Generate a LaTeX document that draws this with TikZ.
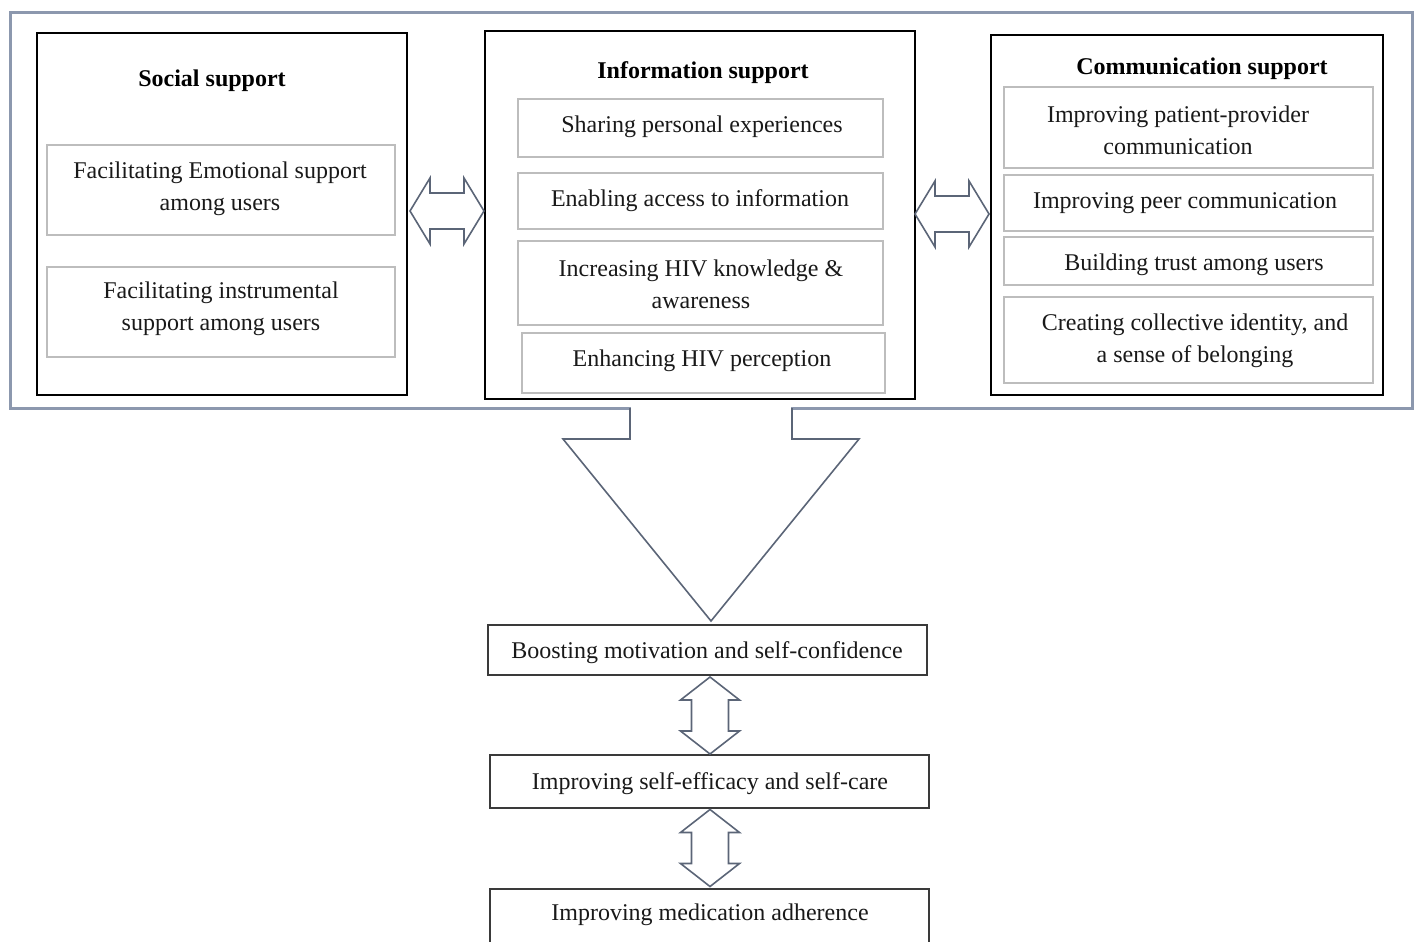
\documentclass[tikz,border=0pt]{standalone}
\usepackage{fontspec}
\setmainfont{Liberation Serif}
\definecolor{framec}{HTML}{8C98AE}
\definecolor{itemc}{HTML}{BDBDBD}
\definecolor{arrowc}{HTML}{5B6577}
\definecolor{botc}{HTML}{3A3A3A}
\begin{document}
\begin{tikzpicture}[x=0.5pt,y=-0.5pt,
  every node/.style={font=\fontsize{12}{16}\selectfont},
  grp/.style={draw=black, line width=1pt, inner sep=0pt, fill=white},
  item/.style={draw=itemc, line width=1pt, inner sep=0pt},
  txt/.style={inner sep=0pt, align=center, text=black!90, yshift=-1.5pt},
  ttl/.style={inner sep=0pt, yshift=-1.5pt, font=\fontsize{12}{16}\selectfont\bfseries},
  barrow/.style={draw=arrowc, line width=0.8pt, fill=white, line join=miter},
  bot/.style={draw=botc, line width=0.9pt, inner sep=0pt}]
\useasboundingbox (0,0) rectangle (1416,941);
\clip (0,0) rectangle (1416,941);
% outer frame
\node[draw=framec, line width=1.5pt, minimum width=701pt, minimum height=197.5pt, inner sep=0pt] (frame) at (711,210.5) {};
% group boxes
\node[grp, minimum width=185pt, minimum height=181pt] (social) at (222,214) {};
\node[grp, minimum width=215pt, minimum height=184pt] (info) at (700,215) {};
\node[grp, minimum width=196pt, minimum height=180pt] (comm) at (1187,215) {};
% titles
\node[ttl] (tsocial) at (212,78) {Social support};
\node[ttl] (tinfo) at (703,70) {Information support};
\node[ttl] (tcomm) at (1202,66) {Communication support};
% social items
\node[item, minimum width=174pt, minimum height=45pt] (s1) at (221,190) {};
\node[item, minimum width=174pt, minimum height=45pt] (s2) at (221,312) {};
\node[txt] (s1t) at (220,186) {Facilitating Emotional support\\among users};
\node[txt] (s2t) at (221,306) {Facilitating instrumental\\support among users};
% info items
\node[item, minimum width=182.5pt, minimum height=29pt] (i1) at (700.5,128) {};
\node[item, minimum width=182.5pt, minimum height=28pt] (i2) at (700.5,201) {};
\node[item, minimum width=182.5pt, minimum height=42pt] (i3) at (700.5,283) {};
\node[item, minimum width=181.5pt, minimum height=30pt] (i4) at (703.5,363) {};
\node[txt] (i1t) at (702,124) {Sharing personal experiences};
\node[txt] (i2t) at (700,198) {Enabling access to information};
\node[txt] (i3t) at (701,281.5) {Increasing HIV knowledge \&\\awareness};
\node[txt] (i4t) at (702,358) {Enhancing HIV perception};
% communication items
\node[item, minimum width=184.5pt, minimum height=40.5pt] (c1) at (1188.5,127.5) {};
\node[item, minimum width=184.5pt, minimum height=28pt] (c2) at (1188.5,203) {};
\node[item, minimum width=184.5pt, minimum height=24pt] (c3) at (1188.5,261) {};
\node[item, minimum width=184.5pt, minimum height=43pt] (c4) at (1188.5,340) {};
\node[txt] (c1t) at (1178,127.5) {Improving patient-provider\\communication};
\node[txt] (c2t) at (1185,200) {Improving peer communication};
\node[txt] (c3t) at (1194,262) {Building trust among users};
\node[txt] (c4t) at (1195,338) {Creating collective identity, and\\a sense of belonging};
% horizontal double block arrows
\coordinate (LA) at (447,211);
\coordinate (RA) at (952,214);
\foreach \c in {LA,RA}{
  \draw[barrow] (\c) ++(-37,0) -- ++(20,-33) -- ++(0,15) -- ++(34,0) -- ++(0,-15)
     -- ++(20,33) -- ++(-20,33) -- ++(0,-15) -- ++(-34,0) -- ++(0,15) -- cycle;
}
% big down arrow
\coordinate (BA) at (711,408);
\fill[white] (BA) ++(-80,-3) rectangle ++(160,6);
\draw[barrow, fill=none] (BA) ++(-81,0) -- ++(0,31) -- ++(-67,0) -- ++(148,182)
   -- ++(148,-182) -- ++(-67,0) -- ++(0,-31);
% bottom boxes
\node[bot, minimum width=219.5pt, minimum height=25pt] (b1) at (707.5,650) {};
\node[bot, minimum width=219.5pt, minimum height=26.5pt] (b2) at (709.5,781.5) {};
\node[bot, minimum width=219.5pt, minimum height=36pt] (b3) at (709.5,925) {};
\node[txt] (b1t) at (707,650) {Boosting motivation and self-confidence};
\node[txt] (b2t) at (710,781) {Improving self-efficacy and self-care};
\node[txt] (b3t) at (710,912) {Improving medication adherence};
% vertical double block arrows
\coordinate (VA) at (710,715.5);
\coordinate (VB) at (710,848);
\foreach \c in {VA,VB}{
  \draw[barrow] (\c) ++(0,-38.5) -- ++(29.5,23) -- ++(-11,0) -- ++(0,31) -- ++(11,0)
     -- ++(-29.5,23) -- ++(-29.5,-23) -- ++(11,0) -- ++(0,-31) -- ++(-11,0) -- cycle;
}
\end{tikzpicture}
\end{document}
